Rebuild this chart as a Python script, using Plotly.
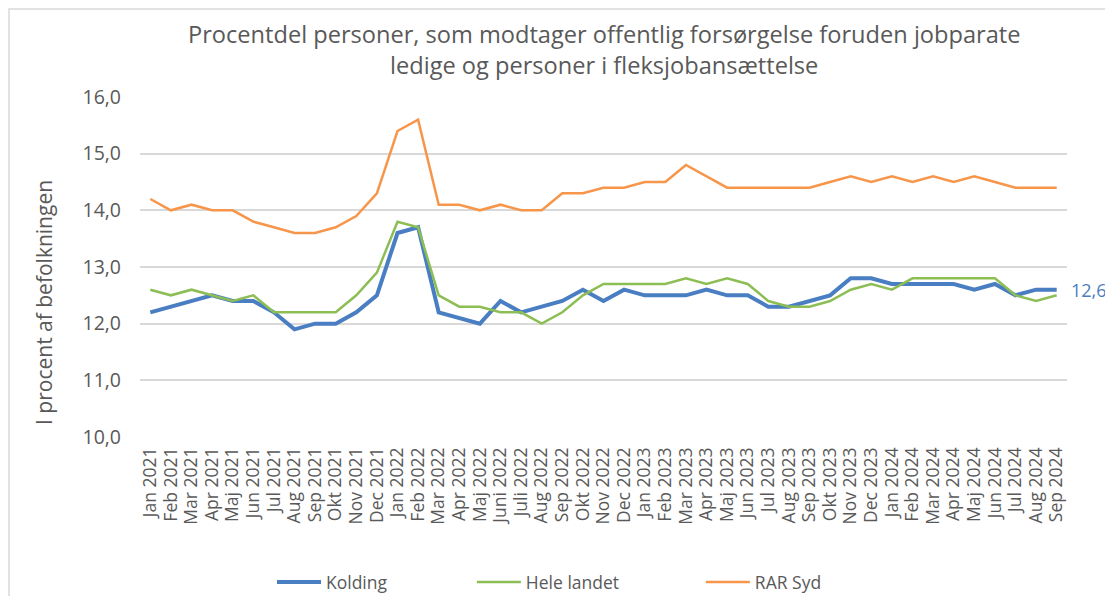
import plotly.graph_objects as go

months = ["Jan 2021", "Feb 2021", "Mar 2021", "Apr 2021", "Maj 2021", "Jun 2021", "Jul 2021", "Aug 2021",
          "Sep 2021", "Okt 2021", "Nov 2021", "Dec 2021", "Jan 2022", "Feb 2022", "Mar 2022", "Apr 2022",
          "Maj 2022", "Juni 2022", "Juli 2022", "Aug 2022", "Sep 2022", "Okt 2022", "Nov 2022", "Dec 2022",
          "Jan 2023", "Feb 2023", "Mar 2023", "Apr 2023", "Maj 2023", "Jun 2023", "Jul 2023", "Aug 2023",
          "Sep 2023", "Okt 2023", "Nov 2023", "Dec 2023", "Jan 2024", "Feb 2024", "Mar 2024", "Apr 2024",
          "Maj 2024", "Jun 2024", "Jul 2024", "Aug 2024", "Sep 2024"]

kolding = [12.2, 12.3, 12.4, 12.5, 12.4, 12.4, 12.2, 11.9, 12.0, 12.0, 12.2, 12.5, 13.6, 13.7, 12.2, 12.1,
           12.0, 12.4, 12.2, 12.3, 12.4, 12.6, 12.4, 12.6, 12.5, 12.5, 12.5, 12.6, 12.5, 12.5, 12.3, 12.3,
           12.4, 12.5, 12.8, 12.8, 12.7, 12.7, 12.7, 12.7, 12.6, 12.7, 12.5, 12.6, 12.6]

hele_landet = [12.6, 12.5, 12.6, 12.5, 12.4, 12.5, 12.2, 12.2, 12.2, 12.2, 12.5, 12.9, 13.8, 13.7, 12.5, 12.3,
               12.3, 12.2, 12.2, 12.0, 12.2, 12.5, 12.7, 12.7, 12.7, 12.7, 12.8, 12.7, 12.8, 12.7, 12.4, 12.3,
               12.3, 12.4, 12.6, 12.7, 12.6, 12.8, 12.8, 12.8, 12.8, 12.8, 12.5, 12.4, 12.5]

rar_syd = [14.2, 14.0, 14.1, 14.0, 14.0, 13.8, 13.7, 13.6, 13.6, 13.7, 13.9, 14.3, 15.4, 15.6, 14.1, 14.1,
           14.0, 14.1, 14.0, 14.0, 14.3, 14.3, 14.4, 14.4, 14.5, 14.5, 14.8, 14.6, 14.4, 14.4, 14.4, 14.4,
           14.4, 14.5, 14.6, 14.5, 14.6, 14.5, 14.6, 14.5, 14.6, 14.5, 14.4, 14.4, 14.4]

y_ticks = [10.0, 11.0, 12.0, 13.0, 14.0, 15.0, 16.0]

title_text = "Procentdel personer, som modtager offentlig forsørgelse foruden jobparate<br>ledige og personer i fleksjobansættelse"
y_title = "I procent af befolkningen"

BLUE = "#4A7EC2"
GREEN = "#8DBE55"
ORANGE = "#F7964A"
GREY = "#595959"
FONT = "Open Sans, Noto Sans, Liberation Sans, sans-serif"

fig = go.Figure()
fig.add_trace(go.Scatter(x=months, y=kolding, name="Kolding", mode="lines",
                         line=dict(color=BLUE, width=4), legend="legend"))
fig.add_trace(go.Scatter(x=months, y=hele_landet, name="Hele landet", mode="lines",
                         line=dict(color=GREEN, width=2.5), legend="legend2"))
fig.add_trace(go.Scatter(x=months, y=rar_syd, name="RAR Syd", mode="lines",
                         line=dict(color=ORANGE, width=2.5), legend="legend3"))

# data label at last Kolding point
fig.add_annotation(x=months[-1], y=kolding[-1], text=f"{kolding[-1]:.1f}".replace(".", ","),
                   showarrow=False, xanchor="left", xshift=12,
                   font=dict(color=BLUE, size=18, family=FONT))

# chart title
fig.add_annotation(xref="paper", yref="paper", x=0.5, y=1.141, xanchor="center", yanchor="middle",
                   text=title_text, showarrow=False,
                   font=dict(color=GREY, size=23.6, family=FONT))

# y axis title
fig.add_annotation(xref="paper", yref="paper", x=-0.1036, y=0.397, text=y_title, textangle=-90,
                   xanchor="center", yanchor="middle",
                   showarrow=False, font=dict(color=GREY, size=21, family=FONT))

# outer chart border
fig.add_shape(type="rect", xref="paper", yref="paper", x0=-0.1413, y0=-0.6, x1=1.2, y1=1.2588,
              line=dict(color="#D9D9D9", width=1.5), fillcolor="rgba(0,0,0,0)", layer="below")

leg_common = dict(orientation="h", yanchor="middle", y=-0.4265, xanchor="left",
                  itemwidth=44, font=dict(size=17.5, color=GREY, family=FONT),
                  bgcolor="rgba(0,0,0,0)")

fig.update_layout(
    width=1105, height=588,
    paper_bgcolor="white", plot_bgcolor="white",
    separators=",.",
    margin=dict(l=132, r=46, t=89, b=159, autoexpand=False),
    font=dict(family=FONT, color=GREY),
    showlegend=True,
    legend=dict(x=0.1424, **leg_common),
    legend2=dict(x=0.358, **leg_common),
    legend3=dict(x=0.605, **leg_common),
    xaxis=dict(type="category", tickangle=-90, tickfont=dict(size=17.5, color=GREY),
               tickmode="array", tickvals=months, ticktext=months,
               showgrid=False, showline=False, ticks="", range=[-0.5, 44.5],
               ticklabelstandoff=6),
    yaxis=dict(range=[10, 16], tickvals=y_ticks, tickformat=".1f",
               tickfont=dict(size=19.5, color=GREY), showgrid=True, gridcolor="#D9D9D9",
               gridwidth=1.5, zeroline=False, showline=False, ticks="",
               ticklabelstandoff=18),
)

fig.write_html("out.html")
